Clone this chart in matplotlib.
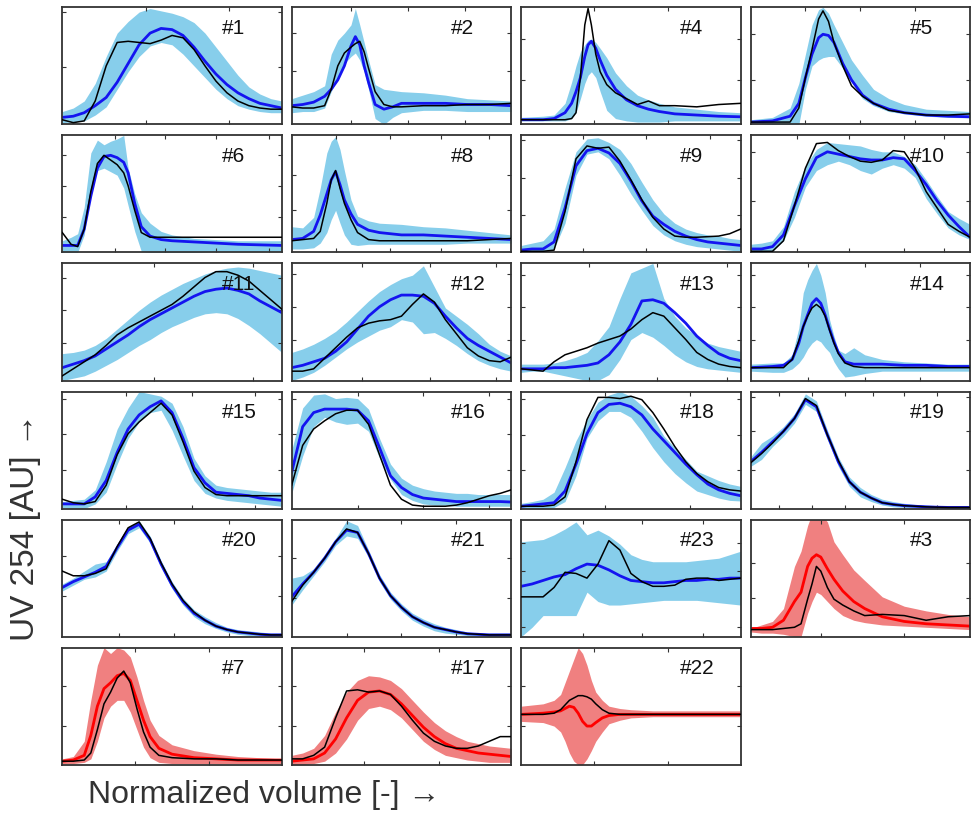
import numpy as np
import matplotlib
matplotlib.use("Agg")
from matplotlib import pyplot as plt

# shared x grid (fraction of normalized volume)
X21 = [0, .05, .1, .15, .2, .25, .3, .35, .4, .45, .5, .55, .6, .65, .7, .75, .8, .85, .9, .95, 1]

# ---- panel data (y in fraction of panel height) ----
p1_x = X21
p1_mean = [.06, .07, .10, .16, .23, .36, .52, .68, .78, .82, .81, .76, .66, .54, .43, .34, .27, .22, .18, .16, .14]
p1_lo = [.015, .02, .03, .08, .15, .30, .45, .58, .67, .70, .68, .60, .50, .40, .30, .22, .16, .13, .11, .10, .10]
p1_hi = [.11, .14, .20, .35, .58, .78, .88, .96, .99, .97, .95, .92, .87, .78, .66, .54, .42, .32, .26, .22, .20]
p1_black = [.04, .015, .03, .20, .50, .70, .71, .70, .69, .72, .76, .74, .64, .50, .37, .27, .20, .16, .14, .13, .13]

p2_x = [0, .05, .1, .15, .18, .21, .24, .27, .29, .31, .33, .35, .38, .42, .46, .5, .6, .7, .8, .9, 1]
p2_mean = [.16, .17, .19, .24, .30, .38, .50, .67, .75, .68, .50, .36, .17, .13, .15, .18, .18, .18, .17, .17, .16]
p2_lo = [.10, .11, .11, .14, .28, .40, .52, .58, .61, .55, .45, .30, .05, .00, .06, .10, .12, .12, .11, .11, .11]
p2_hi = [.22, .25, .28, .33, .60, .72, .78, .85, .99, .85, .70, .55, .34, .30, .29, .28, .27, .25, .22, .21, .20]
p2_black = [.15, .14, .14, .16, .30, .50, .61, .66, .69, .71, .62, .48, .28, .17, .15, .15, .16, .16, .17, .17, .18]

p4_x = [0, .1, .15, .2, .23, .25, .27, .29, .305, .32, .34, .36, .39, .43, .48, .53, .58, .63, .7, .8, .9, 1]
p4_mean = [.04, .04, .05, .10, .18, .28, .40, .58, .68, .71, .65, .55, .42, .30, .21, .16, .13, .11, .09, .08, .07, .065]
p4_lo = [.03, .03, .03, .03, .05, .10, .22, .35, .42, .45, .40, .28, .12, .05, .03, .02, .02, .02, .03, .03, .03, .03]
p4_hi = [.06, .07, .08, .18, .36, .50, .62, .68, .72, .73, .70, .65, .57, .44, .33, .25, .21, .18, .15, .13, .11, .10]
p4_black = [.04, .04, .04, .04, .05, .10, .40, .85, .99, .85, .60, .45, .34, .27, .22, .17, .20, .16, .16, .15, .17, .18]

p5_x = [0, .1, .18, .22, .25, .28, .31, .33, .355, .38, .42, .46, .51, .56, .63, .7, .8, .9, 1]
p5_mean = [.02, .03, .07, .18, .40, .60, .74, .77, .76, .70, .52, .38, .25, .18, .13, .10, .08, .07, .065]
p5_lo = [.015, 0, 0, 0, .30, .50, .55, .57, .58, .58, .48, .36, .22, .16, .11, .09, .07, .06, .056]
p5_hi = [.04, .06, .14, .35, .60, .85, .98, 1.0, .95, .85, .70, .55, .42, .30, .22, .17, .13, .12, .11]
p5_black = [.02, .02, .02, .14, .40, .64, .90, .97, .88, .70, .50, .33, .24, .18, .12, .10, .08, .08, .09]

p6_x = [0, .04, .07, .10, .13, .16, .19, .22, .25, .28, .30, .33, .36, .40, .45, .5, .6, .7, .8, .9, 1]
p6_mean = [.06, .06, .06, .20, .48, .72, .82, .83, .81, .77, .68, .42, .22, .14, .11, .10, .09, .08, .07, .065, .06]
p6_lo = [0, 0, 0, .15, .55, .70, .72, .69, .66, .55, .40, .18, .01, 0, 0, 0, 0, .01, .01, .01, .01]
p6_hi = [.10, .13, .16, .39, .85, .96, .92, .95, .97, 1.0, .72, .50, .34, .25, .18, .15, .12, .11, .10, .10, .10]
p6_black = [.17, .07, .05, .20, .52, .76, .83, .79, .75, .68, .57, .36, .17, .13, .13, .13, .13, .13, .13, .13, .13]

p8_x = [0, .05, .1, .13, .16, .18, .20, .22, .24, .27, .30, .35, .4, .5, .6, .7, .8, .9, 1]
p8_mean = [.11, .12, .18, .32, .50, .62, .69, .58, .45, .33, .24, .19, .17, .15, .15, .14, .13, .12, .11]
p8_lo = [.03, .03, .04, .08, .17, .28, .36, .25, .15, .07, .06, .07, .07, .07, .07, .07, .08, .08, .08]
p8_hi = [.22, .21, .30, .55, .85, .95, .99, .88, .70, .45, .31, .27, .25, .24, .22, .21, .19, .17, .15]
p8_black = [.10, .11, .12, .18, .42, .62, .70, .55, .42, .28, .17, .11, .10, .10, .10, .10, .10, .11, .12]

p9_x = X21
p9_mean = [.02, .03, .03, .09, .38, .74, .87, .89, .85, .76, .61, .44, .31, .24, .18, .14, .11, .09, .08, .07, .06]
p9_lo = [.01, .01, .01, .03, .25, .66, .84, .86, .80, .66, .50, .36, .23, .15, .10, .07, .05, .04, .03, .02, .01]
p9_hi = [.06, .08, .10, .20, .55, .86, .97, .98, .94, .88, .76, .60, .45, .33, .25, .20, .17, .15, .14, .12, .11]
p9_black = [.01, .01, .01, .02, .35, .80, .91, .89, .90, .78, .62, .45, .30, .20, .14, .13, .13, .135, .14, .16, .20]

p10_x = X21
p10_mean = [.03, .03, .05, .15, .40, .63, .81, .86, .84, .82, .80, .79, .79, .81, .80, .70, .58, .44, .32, .22, .13]
p10_lo = [0, 0, .01, .10, .30, .56, .70, .75, .78, .75, .70, .67, .72, .75, .72, .64, .46, .33, .21, .15, .11]
p10_hi = [.07, .08, .10, .22, .52, .74, .88, .94, .93, .92, .91, .88, .86, .86, .82, .75, .62, .48, .35, .29, .24]
p10_black = [.01, .01, .01, .10, .40, .72, .93, .94, .87, .82, .78, .77, .79, .87, .86, .72, .52, .38, .24, .18, .13]

p11_x = X21
p11_mean = [.11, .14, .17, .21, .27, .33, .39, .46, .52, .57, .62, .67, .72, .76, .78, .79, .77, .74, .68, .63, .58]
p11_lo = [0, .02, .04, .08, .13, .18, .24, .30, .35, .41, .46, .50, .54, .57, .58, .57, .53, .47, .40, .32, .24]
p11_hi = [.23, .24, .26, .30, .36, .44, .52, .60, .67, .73, .78, .83, .87, .91, .94, .96, .97, .96, .94, .92, .90]
p11_black = [.04, .10, .16, .22, .30, .39, .45, .50, .55, .60, .65, .72, .80, .88, .93, .93, .90, .85, .77, .69, .61]

p12_x = X21
p12_mean = [.11, .13, .16, .19, .25, .33, .44, .55, .63, .69, .73, .73, .72, .66, .55, .45, .36, .30, .25, .20, .15]
p12_lo = [0, .03, .07, .13, .20, .27, .33, .38, .43, .46, .52, .50, .40, .41, .36, .30, .23, .17, .13, .10, .08]
p12_hi = [.24, .27, .31, .36, .42, .50, .59, .68, .76, .82, .87, .90, .98, .80, .62, .55, .48, .40, .31, .25, .21]
p12_black = [.08, .08, .10, .19, .28, .37, .45, .49, .51, .52, .55, .65, .74, .67, .52, .40, .28, .21, .17, .16, .20]

p13_x = X21
p13_mean = [.10, .10, .10, .11, .11, .12, .13, .15, .22, .33, .48, .68, .69, .66, .58, .49, .38, .30, .23, .19, .17]
p13_lo = [.07, .08, .08, .06, .04, .02, 0, 0, .05, .18, .35, .41, .37, .30, .22, .16, .12, .10, .09, .08, .07]
p13_hi = [.14, .14, .14, .15, .17, .20, .24, .34, .46, .70, .92, .96, 1.0, .70, .55, .45, .38, .32, .29, .27, .25]
p13_black = [.10, .09, .08, .16, .22, .25, .28, .32, .35, .38, .44, .52, .58, .55, .45, .35, .24, .18, .14, .12, .11]

p14_x = [0, .1, .15, .19, .22, .24, .26, .28, .30, .32, .34, .36, .38, .40, .43, .47, .52, .6, .7, .8, .9, 1]
p14_mean = [.11, .12, .13, .18, .32, .46, .56, .66, .70, .66, .56, .44, .33, .24, .16, .14, .14, .14, .13, .13, .12, .12]
p14_lo = [.08, .07, .07, .10, .15, .20, .27, .32, .35, .33, .28, .24, .16, .10, .03, .04, .06, .08, .08, .08, .08, .08]
p14_hi = [.14, .15, .15, .22, .45, .75, .86, .94, 1.0, .90, .75, .52, .38, .26, .23, .28, .22, .18, .16, .15, .14, .14]
p14_black = [.11, .11, .11, .18, .34, .46, .55, .62, .65, .62, .55, .43, .32, .23, .15, .12, .11, .11, .11, .11, .11, .11]

p15_x = X21
p15_mean = [.04, .04, .04, .10, .24, .48, .68, .80, .87, .92, .82, .60, .35, .22, .14, .13, .12, .11, .09, .08, .07]
p15_lo = [.01, 0, 0, .04, .14, .38, .60, .74, .82, .84, .67, .45, .24, .13, .09, .07, .06, .05, .04, .03, .02]
p15_hi = [.06, .07, .08, .16, .40, .68, .86, 1.0, .98, .96, .90, .70, .43, .28, .20, .18, .17, .16, .15, .14, .14]
p15_black = [.08, .05, .04, .06, .20, .46, .64, .74, .82, .90, .80, .57, .32, .18, .12, .11, .11, .11, .11, .11, .11]

p16_x = X21
p16_mean = [.31, .70, .82, .85, .85, .85, .84, .75, .52, .28, .18, .12, .09, .08, .07, .06, .06, .06, .06, .06, .056]
p16_lo = [.13, .45, .70, .78, .74, .72, .73, .66, .43, .25, .12, .07, .04, .03, .03, .02, .02, .02, .02, .02, .02]
p16_hi = [.50, .86, .97, .98, .94, .95, .94, .85, .60, .38, .26, .20, .17, .15, .14, .13, .13, .12, .12, .12, .12]
p16_black = [.20, .54, .68, .75, .81, .84, .84, .72, .46, .20, .08, .03, .02, .02, .02, .03, .05, .08, .11, .13, .16]

p18_x = X21
p18_mean = [.02, .03, .04, .05, .15, .38, .64, .82, .89, .90, .87, .80, .68, .58, .48, .38, .29, .21, .16, .13, .11]
p18_lo = [0, 0, 0, .01, .06, .28, .60, .75, .83, .83, .78, .66, .52, .40, .30, .22, .15, .12, .09, .07, .065]
p18_hi = [.045, .06, .08, .14, .35, .58, .76, .91, .97, 1.0, .96, .88, .78, .62, .52, .42, .32, .28, .24, .21, .19]
p18_black = [.02, .02, .02, .03, .10, .40, .76, .95, .95, .94, .96, .93, .82, .68, .53, .40, .30, .23, .18, .16, .15]

p19_x = X21
p19_mean = [.40, .48, .57, .66, .77, .93, .87, .63, .40, .23, .14, .09, .05, .035, .025, .02, .015, .012, .01, .01, .01]
p19_lo = [.36, .42, .53, .62, .73, .89, .83, .59, .36, .19, .10, .06, .03, .015, .01, .005, 0, 0, 0, 0, 0]
p19_hi = [.44, .56, .62, .70, .81, .98, .92, .67, .44, .27, .18, .12, .08, .06, .045, .035, .03, .025, .02, .02, .02]
p19_black = [.39, .47, .56, .66, .77, .94, .88, .63, .41, .23, .14, .09, .05, .035, .025, .02, .015, .012, .01, .01, .01]

p20_x = X21
p20_mean = [.42, .47, .51, .55, .60, .76, .91, .96, .83, .62, .44, .30, .20, .14, .09, .06, .04, .03, .02, .015, .015]
p20_lo = [.39, .44, .49, .51, .56, .73, .88, .93, .80, .59, .41, .27, .17, .11, .07, .04, .02, .01, .01, 0, 0]
p20_hi = [.45, .50, .56, .62, .64, .79, .94, .99, .86, .65, .47, .33, .23, .17, .12, .08, .06, .05, .04, .03, .03]
p20_black = [.56, .52, .52, .54, .58, .77, .93, .98, .84, .63, .45, .31, .21, .14, .09, .06, .04, .03, .02, .015, .015]

p21_x = X21
p21_mean = [.34, .45, .55, .67, .81, .91, .89, .71, .50, .35, .25, .17, .12, .08, .06, .04, .025, .02, .015, .015, .015]
p21_lo = [.27, .40, .52, .64, .78, .86, .84, .68, .47, .32, .22, .14, .09, .05, .03, .02, .01, .01, 0, 0, 0]
p21_hi = [.50, .52, .58, .70, .84, .99, .95, .74, .53, .38, .28, .20, .15, .11, .08, .06, .04, .03, .03, .03, .03]
p21_black = [.30, .44, .55, .67, .81, .92, .89, .71, .50, .35, .25, .17, .12, .08, .06, .04, .025, .02, .015, .015, .015]

p23_x = X21
p23_mean = [.43, .45, .48, .51, .53, .58, .62, .61, .57, .52, .48, .47, .46, .46, .47, .48, .48, .49, .49, .50, .50]
p23_lo = [0, .08, .18, .18, .18, .18, .38, .30, .27, .27, .28, .29, .30, .31, .31, .31, .31, .30, .29, .28, .27]
p23_hi = [.81, .82, .83, .87, .92, .98, .87, .91, .86, .79, .70, .66, .64, .64, .64, .64, .65, .66, .67, .70, .73]
p23_black = [.34, .34, .34, .42, .55, .54, .50, .62, .82, .74, .54, .47, .43, .43, .44, .49, .50, .50, .48, .49, .50]

p3_x = [0, .05, .1, .15, .2, .23, .26, .28, .30, .32, .35, .38, .42, .47, .52, .6, .7, .8, .9, 1]
p3_mean = [.07, .07, .08, .14, .30, .38, .60, .67, .70, .68, .58, .49, .39, .30, .24, .17, .13, .11, .10, .09]
p3_lo = [.04, .03, .03, .02, 0, 0, .20, .30, .38, .36, .30, .24, .18, .14, .12, .10, .09, .08, .07, .06]
p3_hi = [.07, .10, .13, .24, .60, .73, .95, 1.05, 1.05, 1.05, .98, .81, .70, .57, .48, .34, .26, .22, .19, .17]
p3_black = [.06, .06, .06, .07, .08, .11, .32, .45, .60, .56, .42, .32, .27, .22, .18, .19, .18, .14, .17, .18]

p7_x = [0, .05, .1, .13, .16, .19, .22, .25, .28, .31, .34, .37, .40, .44, .5, .6, .7, .8, .9, 1]
p7_mean = [.03, .04, .08, .25, .50, .65, .70, .76, .78, .72, .55, .38, .24, .14, .09, .06, .05, .04, .04, .04]
p7_lo = [.01, .01, .02, .05, .20, .40, .50, .55, .55, .45, .30, .15, .06, .02, .01, .01, .01, .01, .01, .01]
p7_hi = [.05, .07, .20, .55, .85, 1.0, .95, 1.0, .98, .92, .75, .55, .38, .25, .17, .12, .09, .07, .06, .05]
p7_black = [.03, .03, .04, .10, .30, .52, .62, .74, .80, .70, .48, .28, .15, .08, .06, .05, .05, .04, .04, .04]

p17_x = X21
p17_mean = [.03, .04, .05, .10, .22, .40, .55, .62, .63, .60, .52, .42, .32, .24, .18, .14, .12, .10, .09, .08, .07]
p17_lo = [0, 0, .01, .03, .10, .22, .38, .48, .50, .47, .40, .30, .20, .13, .08, .06, .04, .03, .02, .02, .02]
p17_hi = [.08, .10, .14, .25, .45, .62, .72, .76, .75, .72, .65, .55, .45, .36, .29, .24, .20, .18, .16, .15, .14]
p17_black = [.05, .05, .08, .15, .40, .63, .64, .62, .63, .60, .50, .38, .27, .20, .16, .14, .14, .16, .20, .24, .24]

p22_x = [0, .1, .15, .18, .2, .22, .24, .26, .28, .3, .32, .34, .37, .4, .45, .5, .6, .8, 1]
p22_mean = [.43, .44, .45, .46, .48, .50, .49, .44, .37, .33, .33, .36, .40, .42, .43, .43, .43, .43, .43]
p22_lo = [.37, .36, .33, .28, .20, .10, .03, 0, 0, .05, .12, .20, .28, .35, .38, .40, .41, .41, .41]
p22_hi = [.50, .52, .55, .60, .70, .80, .90, 1.0, .95, .85, .72, .62, .55, .50, .48, .47, .46, .46, .46]
p22_black = [.43, .43, .44, .47, .51, .55, .57, .59, .59, .58, .56, .52, .47, .44, .43, .43, .43, .43, .43]

panels = [
    ("#1", p1_x, p1_mean, p1_lo, p1_hi, p1_black, "blue"),
    ("#2", p2_x, p2_mean, p2_lo, p2_hi, p2_black, "blue"),
    ("#4", p4_x, p4_mean, p4_lo, p4_hi, p4_black, "blue"),
    ("#5", p5_x, p5_mean, p5_lo, p5_hi, p5_black, "blue"),
    ("#6", p6_x, p6_mean, p6_lo, p6_hi, p6_black, "blue"),
    ("#8", p8_x, p8_mean, p8_lo, p8_hi, p8_black, "blue"),
    ("#9", p9_x, p9_mean, p9_lo, p9_hi, p9_black, "blue"),
    ("#10", p10_x, p10_mean, p10_lo, p10_hi, p10_black, "blue"),
    ("#11", p11_x, p11_mean, p11_lo, p11_hi, p11_black, "blue"),
    ("#12", p12_x, p12_mean, p12_lo, p12_hi, p12_black, "blue"),
    ("#13", p13_x, p13_mean, p13_lo, p13_hi, p13_black, "blue"),
    ("#14", p14_x, p14_mean, p14_lo, p14_hi, p14_black, "blue"),
    ("#15", p15_x, p15_mean, p15_lo, p15_hi, p15_black, "blue"),
    ("#16", p16_x, p16_mean, p16_lo, p16_hi, p16_black, "blue"),
    ("#18", p18_x, p18_mean, p18_lo, p18_hi, p18_black, "blue"),
    ("#19", p19_x, p19_mean, p19_lo, p19_hi, p19_black, "blue"),
    ("#20", p20_x, p20_mean, p20_lo, p20_hi, p20_black, "blue"),
    ("#21", p21_x, p21_mean, p21_lo, p21_hi, p21_black, "blue"),
    ("#23", p23_x, p23_mean, p23_lo, p23_hi, p23_black, "blue"),
    ("#3", p3_x, p3_mean, p3_lo, p3_hi, p3_black, "red"),
    ("#7", p7_x, p7_mean, p7_lo, p7_hi, p7_black, "red"),
    ("#17", p17_x, p17_mean, p17_lo, p17_hi, p17_black, "red"),
    ("#22", p22_x, p22_mean, p22_lo, p22_hi, p22_black, "red"),
]

# tick positions per panel (x ticks, y ticks), axis fractions
ticks = {
    "#1": ([.38, .76], [.49, .96]), "#2": ([.27, .53, .79], [.46, .78]),
    "#4": ([.33, .67], [.38, .73]), "#5": ([.25, .5, .75], [.38, .77]),
    "#6": ([.24, .47, .7, .94], [.3, .57, .83]), "#8": ([.2, .45, .68, .9], [.36, .66]),
    "#9": ([.28, .57, .86], [.32, .64, .96]), "#10": ([.21, .45, .7, .88], [.44, .86]),
    "#11": ([.42, .87], [.32, .6, .88]), "#12": ([.32, .63, .93], [.35, .63, .91]),
    "#13": ([.31, .62, .94], [.35, .63, .9]), "#14": ([.26, .52, .77], [.35, .63, .9]),
    "#15": ([.29, .59, .88], [.33, .64, .94]), "#16": ([.3, .6, .9], [.33, .64, .94]),
    "#18": ([.38, .77], [.33, .63, .94]), "#19": ([.13, .28, .43, .56, .7, .85], [.33, .66, .95]),
    "#20": ([.26, .51, .76], [.35, .69]), "#21": ([.25, .5, .75], [.33, .67]),
    "#23": ([.28, .55, .83], [.08, .56, .8]), "#3": ([.32, .7], [.33, .63]),
    "#7": ([.33, .67], [.33, .67]), "#17": ([.33, .67], [.33, .67]), "#22": ([.33, .67], [.33, .67]),
}

colors = {
    "blue": ("#87CEEB", "#1414F0"),
    "red": ("#F08080", "#FF0000"),
}

fig, axes = plt.subplots(6, 4, figsize=(9.73, 8.17), dpi=100)
plt.subplots_adjust(left=0.064, right=0.997, top=0.991, bottom=0.064, wspace=0.045, hspace=0.094)

for ax, (name, x, mean, lo, hi, black, col) in zip(axes.flat, panels):
    band_c, line_c = colors[col]
    ax.fill_between(x, lo, hi, color=band_c, lw=0, zorder=1)
    ax.plot(x, mean, color=line_c, lw=2.0, zorder=2)
    ax.plot(x, black, color="black", lw=1.1, zorder=3)
    ax.set_xlim(0, 1)
    ax.set_ylim(0, 1)
    xt, yt = ticks[name]
    ax.set_xticks(xt)
    ax.set_yticks(yt)
    ax.tick_params(direction="in", length=3, width=0.8, top=True, right=True,
                   labelbottom=False, labelleft=False, colors="#333333")
    for s in ax.spines.values():
        s.set_color("#333333")
        s.set_linewidth(1.3)
    ax.text(0.725, 0.82, name, transform=ax.transAxes, fontsize=15,
            family=["Liberation Sans", "DejaVu Sans"], color="#111111",
            ha="left", va="center", zorder=5)

axes.flat[-1].axis("off")

fig.text(0.272, 0.027, "Normalized volume [-] \u2192", fontsize=23, color="#333333",
         family=["Liberation Sans", "DejaVu Sans"], ha="center", va="center")
fig.text(0.026, 0.355, "UV 254 [AU] \u2192", fontsize=24, color="#333333", rotation=90,
         family=["Liberation Sans", "DejaVu Sans"], ha="center", va="center")

plt.savefig("out.png", dpi=100)
